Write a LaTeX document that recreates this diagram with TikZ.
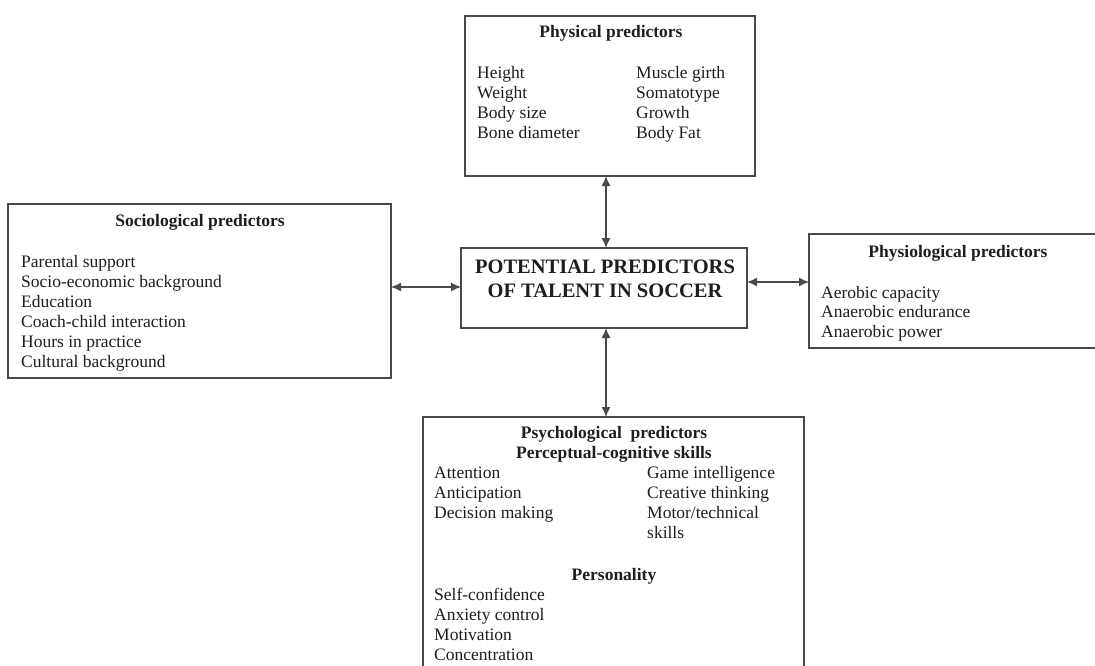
\documentclass[tikz,border=0pt]{standalone}
\usepackage{fontspec}
\setmainfont{Liberation Serif}
\usetikzlibrary{arrows.meta}
\definecolor{ink}{HTML}{1E1E1E}
\definecolor{frame}{HTML}{4A4A4A}
\begin{document}
\begin{tikzpicture}[x=1pt,y=-1pt,
  box/.style={draw=frame,line width=1.4pt,fill=white,inner sep=0pt,outer sep=0pt,anchor=north west},
  txt/.style={text=ink,inner sep=0pt,anchor=base west,font=\fontsize{17.5}{20}\selectfont},
  head/.style={text=ink,inner sep=0pt,anchor=base,font=\fontsize{17.5}{20}\selectfont\bfseries},
  title/.style={text=ink,inner sep=0pt,anchor=base,font=\fontsize{20.5}{24}\selectfont\bfseries},
  arr/.style={draw=frame,line width=1.4pt,{Latex[length=10pt,width=9pt]}-{Latex[length=10pt,width=9pt]}}]
\useasboundingbox[fill=white] (0,0) rectangle (1095,666);
\begin{scope}
\clip (0,0) rectangle (1095,666);
% boxes
\node[box,minimum width=290pt,minimum height=160pt] (phys) at (465,16) {};
\node[box,minimum width=383pt,minimum height=174pt] (soc) at (8,204) {};
\node[box,minimum width=290pt,minimum height=114pt] (physio) at (809,234) {};
\node[box,minimum width=286pt,minimum height=80pt] (ctr) at (461,248) {};
\node[box,minimum width=381pt,minimum height=260pt] (psy) at (423,417) {};
\end{scope}
% axis coordinates for connectors
\coordinate (vx) at (606,0);
\coordinate (hl) at (0,287);
\coordinate (hr) at (0,282);
% connectors
\draw[arr] (phys.south -| vx) -- (ctr.north -| vx);
\draw[arr] (soc.east |- hl) -- (ctr.west |- hl);
\draw[arr] (ctr.east |- hr) -- (physio.west |- hr);
\draw[arr] (ctr.south -| vx) -- (psy.north -| vx);
% centre title
\node[title] (t1) at (605,273) {POTENTIAL PREDICTORS};
\node[title] (t2) at (605,297) {OF TALENT IN SOCCER};
% physical
\node[head] (phh) at (611,38) {Physical predictors};
\node[txt] (ph1) at (477,79) {Height};
\node[txt] (ph2) at (477,99) {Weight};
\node[txt] (ph3) at (477,119) {Body size};
\node[txt] (ph4) at (477,139) {Bone diameter};
\node[txt] (ph5) at (636,79) {Muscle girth};
\node[txt] (ph6) at (636,99) {Somatotype};
\node[txt] (ph7) at (636,119) {Growth};
\node[txt] (ph8) at (636,139) {Body Fat};
% sociological
\node[head] (soh) at (200,226) {Sociological predictors};
\node[txt] (so1) at (21,267) {Parental support};
\node[txt] (so2) at (21,287) {Socio-economic background};
\node[txt] (so3) at (21,307) {Education};
\node[txt] (so4) at (21,327) {Coach-child interaction};
\node[txt] (so5) at (21,347) {Hours in practice};
\node[txt] (so6) at (21,367) {Cultural background};
% physiological
\node[head] (pyh) at (958,257) {Physiological predictors};
\node[txt] (py1) at (821,298) {Aerobic capacity};
\node[txt] (py2) at (821,317.5) {Anaerobic endurance};
\node[txt] (py3) at (821,337) {Anaerobic power};
% psychological
\node[head] (psh1) at (614,438) {Psychological\ \ predictors};
\node[head] (psh2) at (614,458) {Perceptual-cognitive skills};
\node[txt] (ps1) at (434,478) {Attention};
\node[txt] (ps2) at (434,498) {Anticipation};
\node[txt] (ps3) at (434,518) {Decision making};
\node[txt] (ps4) at (647,478) {Game intelligence};
\node[txt] (ps5) at (647,498) {Creative thinking};
\node[txt] (ps6) at (647,518) {Motor/technical};
\node[txt] (ps7) at (647,538) {skills};
\node[head] (psh3) at (614,580) {Personality};
\node[txt] (ps8) at (434,600) {Self-confidence};
\node[txt] (ps9) at (434,620) {Anxiety control};
\node[txt] (ps10) at (434,640) {Motivation};
\node[txt] (ps11) at (434,660) {Concentration};
\end{tikzpicture}
\end{document}
